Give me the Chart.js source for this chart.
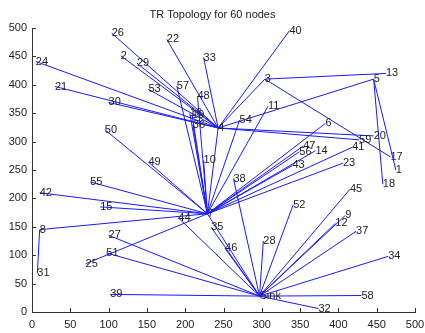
<!DOCTYPE html>
<html>
<head>
<meta charset="utf-8">
<script src="https://cdn.jsdelivr.net/npm/chart.js@4/dist/chart.umd.min.js"></script>
<style>
  html, body { margin: 0; padding: 0; background: #fff; }
  .wrap { width: 425px; height: 333px; }
</style>
</head>
<body>
<div class="wrap"><canvas id="c"></canvas></div>
<script>
// node names, positions and the parent of every node
var nodeLabels = ["1","2","3","4","5","6","7","8","9","10",
  "11","12","13","14","15","16","17","18","19","20",
  "21","22","23","24","25","26","27","28","29","30",
  "31","32","33","34","35","36","37","38","39","40",
  "41","42","43","44","45","46","47","48","49","50",
  "51","52","53","54","55","56","57","58","59","Sink"];
var nodeX = [475,116,304,243,446,383,229,10,409,224,
  308,396,462,370,89,206,468,458,209,446,
  30,176,406,5,70,104,100,302,137,100,
  7,374,224,465,234,210,423,263,102,336,
  418,10,340,191,415,252,354,216,152,95,
  97,341,152,271,76,349,189,430,427,297];
var nodeY = [250,451,410,324,410,332,173,145,170,267,
  362,156,420,284,185,350,273,225,347,310,
  397,480,262,441,85,491,135,125,438,369,
  68,6,448,98,149,330,142,235,31,495,
  290,210,258,166,216,112,292,380,264,321,
  104,189,392,338,229,282,398,29,303,28];
// parent name for every node (Sink has none)
var parentOf = ["5","4","4","7","4","7","Sink","7","Sink","7",
  "7","Sink","3","7","7","7","3","5","7","4",
  "4","4","7","4","7","4","Sink","Sink","4","4",
  "8","Sink","4","Sink","Sink","7","Sink","Sink","Sink","4",
  "7","7","7","Sink","Sink","Sink","7","7","7","7",
  "Sink","Sink","4","7","7","7","7","Sink","4",null];
var xTicks = [0,50,100,150,200,250,300,350,400,450,500];
var yTicks = [0,50,100,150,200,250,300,350,400,450,500];
var chartTitle = "TR Topology for 60 nodes";

var FONT = "'Liberation Sans', Arial, sans-serif";

// one small dataset per link (child -> parent)
var datasets = [];
for (var i = 0; i < nodeLabels.length; i++) {
    if (!parentOf[i]) continue;
    var p = nodeLabels.indexOf(parentOf[i]);
    datasets.push({
        data: [{x: nodeX[i], y: nodeY[i]}, {x: nodeX[p], y: nodeY[p]}],
        showLine: true,
        borderColor: "#1a1aff",
        borderWidth: 1,
        pointRadius: 0,
        fill: false
    });
}

// node numbers next to each node, and the small inward ticks of matlab
var nodeTextPlugin = {
    id: "nodeText",
    afterDatasetsDraw: function(chart) {
        var ctx = chart.ctx, xs = chart.scales.x, ys = chart.scales.y;
        ctx.save();
        ctx.font = "11px " + FONT;
        ctx.fillStyle = "#222";
        ctx.textAlign = "left";
        ctx.textBaseline = "middle";
        for (var i = 0; i < nodeLabels.length; i++) {
            ctx.fillText(nodeLabels[i], xs.getPixelForValue(nodeX[i]), ys.getPixelForValue(nodeY[i]));
        }
        // ticks pointing into the plot
        ctx.strokeStyle = "#333";
        ctx.lineWidth = 1;
        var area = chart.chartArea;
        ctx.beginPath();
        xTicks.forEach(function(v) {
            var px = Math.round(xs.getPixelForValue(v)) + 0.5;
            ctx.moveTo(px, area.bottom);
            ctx.lineTo(px, area.bottom - 4);
        });
        yTicks.forEach(function(v) {
            var py = Math.round(ys.getPixelForValue(v)) + 0.5;
            ctx.moveTo(area.left, py);
            ctx.lineTo(area.left + 4, py);
        });
        ctx.stroke();
        ctx.restore();
    }
};

new Chart(document.getElementById("c"), {
    type: "scatter",
    data: {datasets: datasets},
    options: {
        responsive: true,
        maintainAspectRatio: false,
        animation: false,
        layout: {padding: {left: 0, right: 0, top: 0, bottom: 0}},
        plugins: {
            legend: {display: false},
            tooltip: {enabled: false},
            title: {
                display: true,
                text: chartTitle,
                color: "#222",
                font: {family: FONT, size: 11, weight: "normal"},
                padding: {top: 8, bottom: 6.8}
            }
        },
        scales: {
            x: {
                type: "linear", min: 0, max: 500,
                afterBuildTicks: function(s) { s.ticks = xTicks.map(function(v) { return {value: v}; }); },
                afterFit: function(s) { s.height = 21; s.paddingRight = 10; s.paddingLeft = 0; },
                grid: {display: false, drawTicks: false},
                border: {display: true, color: "#333"},
                ticks: {color: "#222", font: {family: FONT, size: 11}, padding: 6, maxRotation: 0}
            },
            y: {
                type: "linear", min: 0, max: 500,
                afterBuildTicks: function(s) { s.ticks = yTicks.map(function(v) { return {value: v}; }); },
                afterFit: function(s) { s.width = 32; },
                grid: {display: false, drawTicks: false},
                border: {display: true, color: "#333"},
                ticks: {color: "#222", font: {family: FONT, size: 11}, padding: 5}
            }
        }
    },
    plugins: [nodeTextPlugin]
});
</script>
</body>
</html>
